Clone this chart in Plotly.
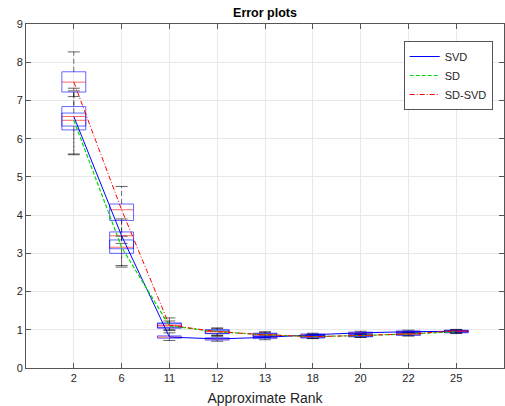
import plotly.graph_objects as go

# ---- data ----
ranks = ["2", "6", "11", "12", "13", "18", "20", "22", "25"]

# SVD box statistics
svd_lo  = [5.58, 2.68, 0.72, 0.70, 0.74, 0.82, 0.88, 0.91, 0.92]
svd_q1  = [6.33, 3.12, 0.78, 0.73, 0.77, 0.84, 0.90, 0.93, 0.94]
svd_med = [6.58, 3.46, 0.81, 0.76, 0.80, 0.87, 0.92, 0.95, 0.96]
svd_q3  = [6.84, 3.56, 0.84, 0.79, 0.83, 0.89, 0.94, 0.97, 0.98]
svd_hi  = [7.32, 3.90, 0.92, 0.82, 0.86, 0.91, 0.96, 0.99, 1.00]

# SD box statistics
sd_lo  = [5.60, 2.64, 0.98, 0.85, 0.80, 0.77, 0.80, 0.84, 0.90]
sd_q1  = [6.23, 3.00, 1.04, 0.90, 0.83, 0.79, 0.82, 0.86, 0.92]
sd_med = [6.48, 3.16, 1.10, 0.95, 0.87, 0.82, 0.85, 0.89, 0.95]
sd_q3  = [6.67, 3.35, 1.16, 0.99, 0.90, 0.85, 0.87, 0.91, 0.97]
sd_hi  = [7.25, 3.45, 1.23, 1.03, 0.93, 0.88, 0.89, 0.93, 0.99]

# SD-SVD box statistics
sdsvd_lo  = [7.10, 3.26, 1.00, 0.86, 0.80, 0.77, 0.80, 0.84, 0.92]
sdsvd_q1  = [7.22, 3.86, 1.06, 0.90, 0.83, 0.79, 0.82, 0.86, 0.94]
sdsvd_med = [7.48, 4.14, 1.12, 0.95, 0.87, 0.82, 0.85, 0.89, 0.97]
sdsvd_q3  = [7.75, 4.29, 1.18, 1.00, 0.91, 0.85, 0.87, 0.92, 0.99]
sdsvd_hi  = [8.27, 4.75, 1.31, 1.05, 0.95, 0.88, 0.89, 0.94, 1.01]

series_names = ["SVD", "SD", "SD-SVD"]
yticks = [0, 1, 2, 3, 4, 5, 6, 7, 8, 9]

# ---- styling ----
BOX_HALF = 0.25
CAP_HALF = 0.125
FONT = "Liberation Sans, Arial, Helvetica, sans-serif"

pos = list(range(1, len(ranks) + 1))

fig = go.Figure()


def add_boxes(lo, q1, med, q3, hi):
    wx, wy, cx, cy, bx, by, mx, my = [], [], [], [], [], [], [], []
    for x, a, b, m, c, d in zip(pos, lo, q1, med, q3, hi):
        wx += [x, x, None, x, x, None]
        wy += [c, d, None, b, a, None]
        cx += [x - CAP_HALF, x + CAP_HALF, None, x - CAP_HALF, x + CAP_HALF, None]
        cy += [d, d, None, a, a, None]
        bx += [x - BOX_HALF, x + BOX_HALF, x + BOX_HALF, x - BOX_HALF, x - BOX_HALF, None]
        by += [b, b, c, c, b, None]
        mx += [x - BOX_HALF, x + BOX_HALF, None]
        my += [m, m, None]
    fig.add_trace(go.Scatter(x=wx, y=wy, mode="lines", showlegend=False, hoverinfo="skip",
                             line=dict(color="rgba(0,0,0,0.55)", width=1, dash="5px,3px")))
    fig.add_trace(go.Scatter(x=cx, y=cy, mode="lines", showlegend=False, hoverinfo="skip",
                             line=dict(color="rgba(0,0,0,0.6)", width=1)))
    fig.add_trace(go.Scatter(x=bx, y=by, mode="lines", showlegend=False, hoverinfo="skip",
                             line=dict(color="rgba(0,0,255,0.6)", width=1)))
    fig.add_trace(go.Scatter(x=mx, y=my, mode="lines", showlegend=False, hoverinfo="skip",
                             line=dict(color="rgba(255,0,0,0.6)", width=1)))


add_boxes(svd_lo, svd_q1, svd_med, svd_q3, svd_hi)
add_boxes(sd_lo, sd_q1, sd_med, sd_q3, sd_hi)
add_boxes(sdsvd_lo, sdsvd_q1, sdsvd_med, sdsvd_q3, sdsvd_hi)

fig.add_trace(go.Scatter(x=pos, y=svd_med, mode="lines", name=series_names[0],
                         line=dict(color="rgb(0,0,255)", width=1)))
fig.add_trace(go.Scatter(x=pos, y=sd_med, mode="lines", name=series_names[1],
                         line=dict(color="rgb(0,220,0)", width=1.2, dash="4px,2px")))
fig.add_trace(go.Scatter(x=pos, y=sdsvd_med, mode="lines", name=series_names[2],
                         line=dict(color="rgb(255,0,0)", width=1, dash="5px,2px,1px,2px")))

axis_common = dict(showline=True, linecolor="#555555", linewidth=1, mirror="ticks",
                   ticks="inside", ticklen=5, tickcolor="#555555", showgrid=True,
                   gridcolor="#e8e8e8", zeroline=False,
                   tickfont=dict(family=FONT, size=11, color="#262626"))

fig.update_layout(
    width=505, height=406,
    margin=dict(l=26, r=1, t=24, b=38),
    paper_bgcolor="white", plot_bgcolor="white",
    font=dict(family=FONT, color="#262626"),
    title=dict(text="<b>Error plots</b>", x=(26 + 504) / 2 / 505, xanchor="center",
               y=1 - 13 / 406, yanchor="middle", font=dict(size=12.5, color="black")),
    xaxis=dict(range=[0, 10], tickmode="array", tickvals=pos, ticktext=ranks,
               title=dict(text="Approximate Rank", standoff=9,
                          font=dict(family=FONT, size=14, color="#262626")),
               **axis_common),
    yaxis=dict(range=[0, 9], tickmode="array", tickvals=yticks,
               ticktext=[str(v) for v in yticks], **axis_common),
    legend=dict(x=(492.7 - 26) / 478, xanchor="right", y=(368 - 41) / 344, yanchor="top",
                bgcolor="white", bordercolor="#555555", borderwidth=1,
                font=dict(family=FONT, size=11, color="#262626"),
                tracegroupgap=0, itemwidth=30),
)

fig.write_html("out.html")
